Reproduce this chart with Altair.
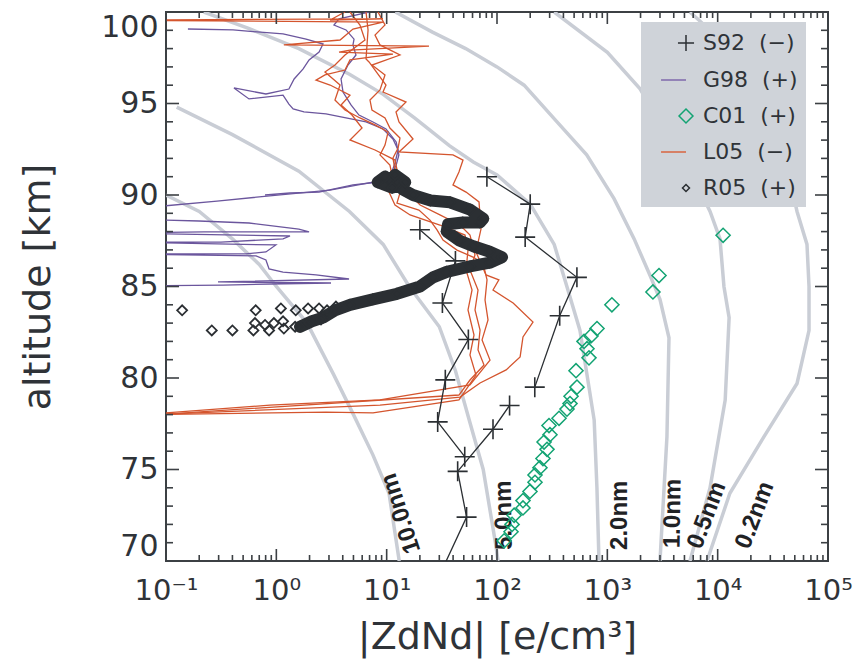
import altair as alt
import pandas as pd

W, H = 662, 549

# ---------------- particle-size curves (grey) ----------------
curve_names = ["10.0nm", "5.0nm", "2.0nm", "1.0nm", "0.5nm", "0.2nm"]
c10_x = [0.1, 0.2, 0.4, 0.7, 1.0, 1.9, 3.3, 5.0, 7.5, 10.5, 13]
c10_alt = [90.0, 89.1, 87.6, 86.2, 85.0, 83.0, 80.2, 78.0, 75.8, 73.7, 70.0]
c5_x = [0.125, 0.4, 1.6, 4.6, 9.3, 16, 30, 42, 56, 75, 98, 102]
c5_alt = [94.8, 93.3, 91.3, 89.1, 87.3, 85.0, 82.8, 80.4, 77.7, 75.0, 70.8, 70.0]
c2_x = [0.22, 0.56, 1.6, 4.6, 9.3, 18, 37, 61, 100, 200, 330, 430, 565, 760, 805, 840]
c2_alt = [100, 99.1, 98.0, 96.6, 95.5, 94.2, 92.7, 91.8, 91.1, 89.5, 87.3, 85.0, 82.6, 77.7, 74.0, 70.0]
c1_x = [12, 26, 52, 100, 176, 350, 650, 1150, 1750, 2440, 3000, 3620, 3470, 3000]
c1_alt = [100, 98.9, 98.0, 97.0, 96.0, 94.0, 92.2, 89.8, 87.6, 85.6, 84.3, 82.2, 76.8, 70.0]
c05_x = [330, 1000, 1980, 3700, 6240, 8530, 10500, 11400, 12700, 11700, 8530, 5610]
c05_alt = [100, 97.8, 95.8, 93.0, 90.8, 89.1, 87.6, 85.0, 83.3, 78.8, 74.0, 70.0]
c02_x = [5610, 7520, 24200, 45300, 52400, 64500, 67300, 67300, 52400, 26300, 12900, 8000]
c02_alt = [100, 99.3, 94.6, 90.8, 89.1, 87.3, 85.0, 82.6, 79.7, 76.8, 73.7, 70.0]
curve_x = [c10_x, c5_x, c2_x, c1_x, c05_x, c02_x]
curve_alt = [c10_alt, c5_alt, c2_alt, c1_alt, c05_alt, c02_alt]

# curve labels
lab_x = [13.5, 116, 1300, 3940, 8000, 21800]
lab_alt = [72.6, 72.5, 72.5, 72.6, 72.5, 72.5]
lab_angle = [252, 269, 270, 271, 291, 291]

# ---------------- S92 (crosses, 3 profile pieces) ----------------
s92_x = [[81, 200, 180, 530, 370, 220],
         [20, 42, 32, 55, 34, 29, 51],
         [130, 92, 44, 53, 29]]
s92_alt = [[91.0, 89.5, 87.7, 85.5, 83.4, 79.5],
           [88.1, 86.4, 84.1, 82.1, 79.9, 77.6, 75.7],
           [78.5, 77.2, 74.9, 72.4, 69.0]]

# ---------------- G98 (purple lines) ----------------
g98_x = [[6.92, 3.70, 3.33, 4.28, 5.06, 4.95, 5.27, 4.46, 3.86, 4.02, 4.75, 5.61, 7.52, 9.86,
          12.2, 12.9, 12.2, 11.4, 10.5, 8.53, 4.95, 2.44, 1.33, 0.79],
         [0.158, 0.405, 1.15, 1.86, 2.65, 2.44, 1.98, 1.75, 1.45, 1.30, 0.805, 0.413, 0.565, 1.15,
          1.30, 1.42, 1.78, 2.82, 4.28, 6.50, 9.27, 11.4, 12.7, 11.9, 10.9, 9.66, 3.06, 0.29,
          0.038, 0.038, 0.199, 0.565, 1.60, 1.98, 0.221, 0.038, 1.33, 1.15, 0.315, 0.038, 0.99,
          0.805, 0.531, 0.038, 0.655, 0.805, 0.859, 1.15, 2.29, 4.56, 0.296, 3.13, 0.329, 0.038]]
g98_alt = [[100.0, 99.62, 99.29, 99.02, 98.52, 98.20, 97.65, 97.10, 96.34, 95.63, 94.92, 94.37,
            93.99, 93.61, 92.90, 92.19, 91.64, 91.26, 90.87, 90.71, 90.55, 90.16, 90.11, 90.0],
           [99.07, 99.02, 98.80, 98.52, 98.25, 97.81, 97.38, 96.89, 96.34, 95.79, 95.52, 95.85,
            95.25, 95.46, 94.97, 94.70, 94.54, 94.43, 94.21, 93.99, 93.61, 93.06, 92.46, 91.75,
            91.09, 90.82, 90.27, 89.67, 89.18, 88.69, 88.58, 88.47, 88.14, 87.98, 87.98, 87.92,
            87.76, 87.60, 87.43, 87.43, 87.27, 86.89, 86.78, 86.78, 86.67, 86.45, 85.96, 85.79,
            85.63, 85.41, 85.25, 85.19, 85.08, 85.03]]

# ---------------- L05 (red lines) ----------------
l05_x = [[6.50, 6.78, 6.50, 6.92, 9.86, 9.26, 14.97, 12.15, 12.93, 17.33, 12.93, 39.9, 49.2, 45.2,
          39.9, 52.4, 68.7, 71.6, 64.5, 79.5, 104, 92, 140, 212, 172, 162, 121, 70.2, 46.2, 8.7,
          0.1, 0.025],
         [4.19, 3.07, 9.26, 0.025, 9.26, 4.95, 3.78, 1.17, 24.2, 4.65, 3.70, 11.4, 4.65, 4.19,
          2.76, 2.29, 3.07, 4.65, 3.86, 4.85, 5.98, 4.65, 7.84, 11.9, 12.7, 13.2, 12.4, 19.6, 24.7,
          28.6, 32.4, 43.4, 60.6, 74.7, 81.2, 77.9, 82.9, 73.2, 86.4, 56.9, 8.7, 0.876, 0.1, 0.025],
         [8.34, 9.66, 7.84, 8.70, 13.2, 7.36, 9.66, 8.70, 7.06, 7.36, 9.66, 10.7, 13.2, 12.7, 11.4,
          11.9, 14.7, 16.3, 20.1, 30.4, 46.2, 56.9, 63.2, 56.9, 67.3, 63.2, 70.2, 67.3, 76.3, 56.9,
          45.2, 0.1, 0.025],
         [4.65, 5.73, 6.36, 4.19, 3.40, 2.76, 3.78, 3.40, 4.19, 5.73, 7.84, 10.3, 9.66, 8.70, 10.7,
          11.2, 10.3, 11.9, 16.3, 30.4, 51.3, 54.6, 52.4, 59.4, 54.6, 61.9, 56.9, 64.5, 45.2, 7.52,
          2.82, 0.152, 0.025]]
l05_alt = [[100.0, 99.02, 97.43, 97.27, 96.01, 95.63, 95.08, 94.54, 93.99, 93.06, 92.35, 92.19,
            91.91, 91.26, 90.55, 90.16, 89.62, 88.14, 86.89, 85.63, 85.36, 84.81, 84.10, 83.06,
            82.24, 81.15, 80.44, 79.73, 78.96, 78.52, 78.03, 77.98],
           [100.0, 99.56, 99.62, 99.56, 99.45, 99.07, 98.47, 98.20, 98.14, 97.92, 97.81, 97.70,
            97.38, 96.83, 96.56, 96.28, 96.01, 95.46, 94.92, 94.37, 93.66, 93.01, 92.46, 91.91,
            91.09, 90.11, 89.56, 89.18, 88.63, 88.09, 87.54, 86.99, 86.61, 86.28, 85.36, 84.26,
            83.17, 82.08, 80.98, 79.62, 78.80, 78.52, 78.09, 78.03],
           [100.0, 99.29, 98.74, 98.20, 97.65, 97.10, 96.56, 95.74, 95.19, 94.64, 94.21, 93.66,
            93.11, 92.57, 92.02, 91.37, 90.55, 90.0, 89.45, 88.91, 88.36, 87.81, 86.72, 85.90,
            84.81, 83.72, 82.62, 81.53, 80.71, 79.89, 79.07, 78.03, 77.98],
           [100.0, 99.29, 98.47, 97.65, 97.10, 96.72, 96.01, 95.19, 94.64, 94.21, 93.83, 93.44,
            92.73, 92.19, 91.64, 91.09, 90.27, 89.45, 88.91, 88.36, 87.81, 86.99, 85.90, 84.81,
            83.72, 82.35, 81.26, 80.16, 78.80, 78.09, 78.14, 78.03, 77.98]]

# ---------------- C01 (green diamonds) ----------------
c01_x = [11200, 2940, 2590, 1100, 806, 711, 615, 654, 682, 520, 531, 469, 459, 431, 365, 296, 302,
         267, 284, 261, 245, 221, 221, 199, 172, 172, 143, 137, 134, 116]
c01_alt = [87.8, 85.6, 84.7, 84.0, 82.7, 82.3, 82.0, 81.6, 81.1, 80.4, 79.5, 79.0, 78.6, 78.3, 77.8,
           77.4, 76.9, 76.5, 76.1, 75.6, 75.1, 74.7, 74.3, 73.8, 73.3, 72.9, 72.5, 72.0, 71.6, 71.1]

# ---------------- R05 (small black diamonds) ----------------
r05_band_x = [1.64, 2.1, 2.65, 3.4, 4.65, 7.5, 12.4, 20, 26.3, 35, 57, 86, 111, 86, 61, 46, 35, 36,
              49, 70, 75, 57, 37.5, 25, 17.3, 14, 12.4, 10.7, 9.7, 8.3, 11.2, 14.7, 11.9]
r05_band_alt = [82.8, 83.1, 83.3, 83.7, 84.0, 84.3, 84.6, 85.0, 85.5, 85.8, 86.1, 86.3, 86.6, 86.9,
                87.2, 87.5, 88.0, 88.4, 88.5, 88.5, 88.7, 89.2, 89.6, 89.7, 90.0, 90.3, 90.7, 90.8,
                91.0, 90.7, 90.4, 90.7, 91.1]
r05_sparse_x = [0.14, 0.26, 0.40, 0.62, 0.65, 0.64, 0.79, 0.86, 0.95, 1.10, 1.15, 1.17, 1.5, 1.48,
                1.94, 1.98, 2.44, 2.54, 2.88, 3.47]
r05_sparse_alt = [83.7, 82.6, 82.6, 82.6, 83.7, 83.0, 82.9, 82.6, 83.0, 83.8, 83.1, 82.7, 83.7, 82.8,
                  83.8, 83.0, 83.8, 83.2, 83.7, 83.9]

# ---------------- legend ----------------
leg_names = ["S92\u00a0\u00a0(\u2212)", "G98\u00a0\u00a0(+)", "C01\u00a0\u00a0(+)",
             "L05\u00a0\u00a0(\u2212)", "R05\u00a0\u00a0(+)"]
leg_colors = ["#2b2f33", "#7f68ab", "#13a373", "#d8643f", "#2b2f33"]
leg_shapes = ["M1.33,0L2.67,0M2,-0.67L2,0.67",
              "M-0.08,0L2,0",
              "M2,-0.58L2.58,0L2,0.58L1.42,0Z",
              "M-0.08,0L2,0",
              "M2,-0.29L2.29,0L2,0.29L1.71,0Z"]

x_major = [0.1, 1, 10, 100, 1000, 10000, 100000]
x_minor = [m * 10.0 ** k for k in range(-1, 5) for m in range(2, 10)]
y_major = [70, 75, 80, 85, 90, 95, 100]
y_minor = [v for v in range(70, 101) if v % 5 != 0]

# ---------------- tables ----------------
def long(xs, ys, key):
    rows = []
    for gi, (xx, yy) in enumerate(zip(xs, ys)):
        for i, (a, b) in enumerate(zip(xx, yy)):
            rows.append({"x": a, "alt": b, key: gi, "i": i})
    return pd.DataFrame(rows)

curves_df = long(curve_x, curve_alt, "g")
s92_df = long(s92_x, s92_alt, "g")
g98_df = long(g98_x, g98_alt, "g")
l05_df = long(l05_x, l05_alt, "g")
c01_df = pd.DataFrame({"x": c01_x, "alt": c01_alt})
band_df = pd.DataFrame({"x": r05_band_x, "alt": r05_band_alt, "i": range(len(r05_band_x))})
r05_df = pd.DataFrame({"x": r05_band_x + r05_sparse_x, "alt": r05_band_alt + r05_sparse_alt})
lab_df = pd.DataFrame({"x": lab_x, "alt": lab_alt, "angle": lab_angle, "t": curve_names})
leg_df = pd.DataFrame({"x": [1.0] * 5, "alt": [80.0] * 5, "series": leg_names})

xscale = alt.Scale(type="log", domain=[0.1, 100000], nice=False)
yscale = alt.Scale(domain=[70, 100], nice=False, zero=False)

labexpr = "['10\u207b\u00b9','10\u2070','10\u00b9','10\u00b2','10\u00b3','10\u2074','10\u2075'][round(log(datum.value)/LN10)+1]"
xaxis = alt.Axis(values=x_major, labelExpr=labexpr, ticks=False, tickSize=0, domain=False, grid=False,
                 labelFont="DejaVu Sans", labelFontSize=29, labelColor="#2f3338", labelPadding=15,
                 labelFlush=False, labelOverlap=False,
                 title="|ZdNd| [e/cm\u00b3]", titleFont="DejaVu Sans", titleFontSize=38,
                 titleFontWeight="normal", titleColor="#2f3338", titleX=331, titleY=76,
                 titleAlign="center", titleBaseline="middle")
yaxis = alt.Axis(values=y_major, ticks=False, tickSize=0, domain=False, grid=False,
                 labelFont="DejaVu Sans", labelFontSize=30, labelColor="#2f3338", labelPadding=8,
                 labelFlush=True, labelFlushOffset=0,
                 title="altitude [km]", titleFont="DejaVu Sans", titleFontSize=38,
                 titleFontWeight="normal", titleColor="#2f3338", titleX=-128, titleY=274.5,
                 titleAngle=270, titleAlign="center", titleBaseline="middle")

X = alt.X("x:Q", scale=xscale, axis=xaxis)
Y = alt.Y("alt:Q", scale=yscale, axis=yaxis)

grey = alt.Chart(curves_df).mark_line(clip=True, color="#c9cdd5", strokeWidth=3.5).encode(
    x=X, y=Y, detail="g:N", order="i:Q")

labels = alt.Chart(lab_df).mark_text(font="Liberation Sans", fontWeight="bold", fontSize=24,
                                     color="#1f2225", align="center", baseline="middle").encode(
    x=X, y=Y, text="t:N", angle=alt.Angle("angle:Q", scale=None))

g98 = alt.Chart(g98_df).mark_line(clip=True, color="#6b569d", strokeWidth=1.3).encode(
    x=X, y=Y, detail="g:N", order="i:Q")
l05 = alt.Chart(l05_df).mark_line(clip=True, color="#d4552e", strokeWidth=1.3).encode(
    x=X, y=Y, detail="g:N", order="i:Q")

band = alt.Chart(band_df).mark_line(clip=True, color="#2b2f33", strokeWidth=12,
                                    strokeJoin="round", strokeCap="round").encode(
    x=X, y=Y, order="i:Q")
r05 = alt.Chart(r05_df).mark_point(clip=True, shape="diamond", size=100, filled=False,
                                   color="#2b2f33", strokeWidth=1.8, opacity=1).encode(x=X, y=Y)

s92_line = alt.Chart(s92_df).mark_line(clip=True, color="#2b2f33", strokeWidth=1.3).encode(
    x=X, y=Y, detail="g:N", order="i:Q")
s92_pts = alt.Chart(s92_df).mark_point(clip=True, shape="M-1,0L1,0M0,-1L0,1", size=400,
                                       filled=False, color="#2b2f33", strokeWidth=1.6,
                                       opacity=1).encode(x=X, y=Y)

c01 = alt.Chart(c01_df).mark_point(clip=True, shape="diamond", size=200, filled=False,
                                   color="#13a373", strokeWidth=1.5, opacity=1).encode(x=X, y=Y)

# ticks (inward, on all four sides)
xmaj_df = pd.DataFrame({"x": x_major})
xmin_df = pd.DataFrame({"x": x_minor})
ymaj_df = pd.DataFrame({"alt": y_major})
ymin_df = pd.DataFrame({"alt": y_minor})
tick_style = dict(color="#3c4044", strokeWidth=1.6)
ticks = [
    alt.Chart(xmaj_df).mark_rule(**tick_style).encode(x=X, y=alt.value(H), y2=alt.value(H - 12)),
    alt.Chart(xmaj_df).mark_rule(**tick_style).encode(x=X, y=alt.value(0), y2=alt.value(12)),
    alt.Chart(xmin_df).mark_rule(**tick_style).encode(x=X, y=alt.value(H), y2=alt.value(H - 6)),
    alt.Chart(xmin_df).mark_rule(**tick_style).encode(x=X, y=alt.value(0), y2=alt.value(6)),
    alt.Chart(ymaj_df).mark_rule(**tick_style).encode(y=Y, x=alt.value(0), x2=alt.value(13)),
    alt.Chart(ymaj_df).mark_rule(**tick_style).encode(y=Y, x=alt.value(W), x2=alt.value(W - 13)),
    alt.Chart(ymin_df).mark_rule(**tick_style).encode(y=Y, x=alt.value(0), x2=alt.value(7)),
    alt.Chart(ymin_df).mark_rule(**tick_style).encode(y=Y, x=alt.value(W), x2=alt.value(W - 7)),
]

legend_cfg = alt.Legend(title=None, orient="none", legendX=475, legendY=10, fillColor="#cfd3d9",
                        padding=8, symbolSize=576, symbolStrokeWidth=1.5,
                        symbolFillColor="transparent", symbolOpacity=1, labelFont="DejaVu Sans",
                        labelFontSize=22, labelColor="#2f3338", labelOffset=28, rowPadding=12,
                        labelLimit=300)
leg = alt.Chart(leg_df).mark_point(opacity=0, filled=False).encode(
    x=X, y=Y,
    color=alt.Color("series:N", scale=alt.Scale(domain=leg_names, range=leg_colors),
                    legend=legend_cfg),
    shape=alt.Shape("series:N", scale=alt.Scale(domain=leg_names, range=leg_shapes),
                    legend=legend_cfg),
)

chart = alt.layer(grey, labels, g98, l05, band, r05, s92_line, s92_pts, c01, *ticks, leg).properties(
    width=W, height=H,
    autosize=alt.AutoSizeParams(type="none"),
    padding={"left": 158, "top": 4, "right": 25, "bottom": 103},
    background="white",
).configure_view(stroke="#3c4044", strokeWidth=2)

chart.save("out.html", embed_options={"renderer": "svg", "actions": False})
